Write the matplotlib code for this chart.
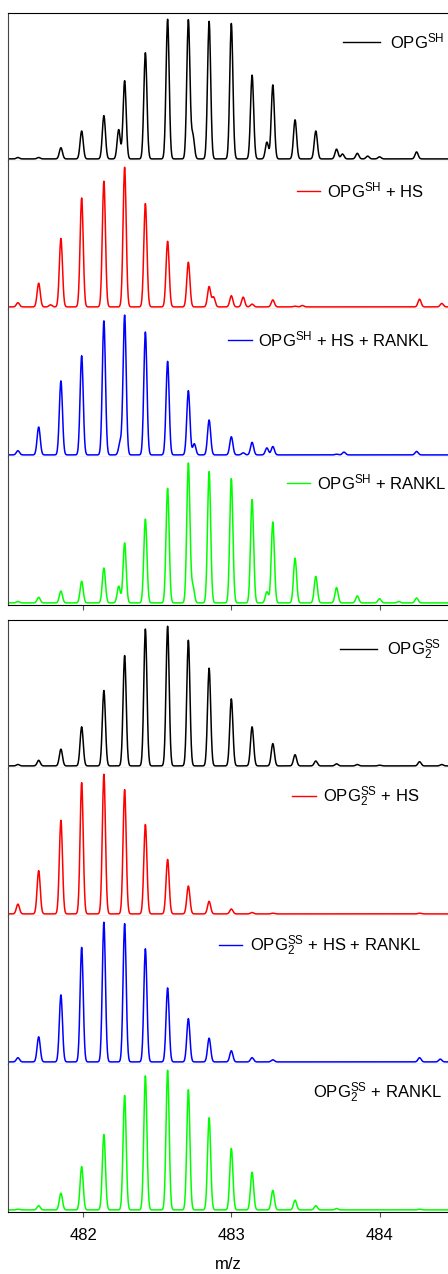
import numpy as np
import matplotlib.pyplot as plt
from matplotlib.lines import Line2D

plt.rcParams['font.family'] = ['Liberation Sans', 'DejaVu Sans']
plt.rcParams['mathtext.fontset'] = 'custom'
plt.rcParams['mathtext.rm'] = 'Liberation Sans'
plt.rcParams['mathtext.it'] = 'Liberation Sans:italic'

# isotope peak centroids (m/z)
peak_mz = [481.56, 481.70, 481.85, 481.99, 482.14, 482.28, 482.42, 482.57, 482.71,
           482.85, 483.00, 483.14, 483.28, 483.43, 483.57, 483.71, 483.85, 484.00]

# relative intensities (%) at each peak_mz
opg_sh = [1, 1, 8, 20, 31, 56, 76, 100, 99.5, 98.5, 97, 60, 53, 28, 20, 7, 4, 1.5]
opg_sh_hs = [3, 17, 49, 78, 90, 100, 74, 47, 32, 14.5, 8, 2, 5, 0.5, 0, 0, 0, 0]
opg_sh_hs_rankl = [3, 20, 53, 71, 96, 100, 88, 67, 46, 25, 13, 9, 6, 0, 0, 0.5, 0, 0]
opg_sh_rankl = [1, 4, 8.5, 15.5, 25, 43, 60, 82, 100, 94, 89, 74, 58, 32, 19, 11, 5, 3]
opg2_ss = [1, 4, 12, 28, 54, 79, 98, 100, 90, 70, 48, 28, 16, 8, 3.5, 1.5, 1, 0.5]
opg2_ss_hs = [7, 31, 67, 94, 100, 89, 64, 39, 20, 9, 3.5, 1, 0.5, 0, 0, 0, 0, 0]
opg2_ss_hs_rankl = [3, 18, 48, 82, 100, 99, 81, 53, 31, 17, 8, 3, 1.5, 0, 0, 0, 0, 0]
opg2_ss_rankl = [0.5, 3, 12, 31, 54, 82, 96, 100, 86, 66, 44, 27, 14, 7, 3, 1, 0, 0]

# minor / shoulder peaks (m/z, intensity)
opg_sh_minor = [(482.24, 21), (482.74, 17), (483.24, 12), (483.75, 3.5), (483.92, 2), (484.25, 5)]
opg_sh_hs_minor = [(481.78, 1.5), (482.88, 7), (483.08, 7), (483.48, 1), (484.27, 5.5), (484.42, 2.5)]
opg_sh_hs_rankl_minor = [(482.25, 9), (482.75, 8), (483.08, 1.5), (483.24, 5), (483.76, 2), (484.25, 2.5)]
opg_sh_rankl_minor = [(482.24, 12), (482.74, 12), (483.24, 8), (484.13, 1), (484.25, 3.5)]
opg2_ss_minor = [(484.27, 3), (484.42, 1)]
opg2_ss_hs_minor = [(484.27, 0.5)]
opg2_ss_hs_rankl_minor = [(484.27, 3), (484.41, 2)]
opg2_ss_rankl_minor = [(484.27, 0.5)]

spectra = [opg_sh, opg_sh_hs, opg_sh_hs_rankl, opg_sh_rankl,
           opg2_ss, opg2_ss_hs, opg2_ss_hs_rankl, opg2_ss_rankl]
minors = [opg_sh_minor, opg_sh_hs_minor, opg_sh_hs_rankl_minor, opg_sh_rankl_minor,
          opg2_ss_minor, opg2_ss_hs_minor, opg2_ss_hs_rankl_minor, opg2_ss_rankl_minor]
labels = [r'OPG$^{\mathrm{SH}}$', r'OPG$^{\mathrm{SH}}$ + HS',
          r'OPG$^{\mathrm{SH}}$ + HS + RANKL', r'OPG$^{\mathrm{SH}}$ + RANKL',
          r'OPG$_{2}^{\mathrm{SS}}$', r'OPG$_{2}^{\mathrm{SS}}$ + HS',
          r'OPG$_{2}^{\mathrm{SS}}$ + HS + RANKL', r'OPG$_{2}^{\mathrm{SS}}$ + RANKL']
colors = ['black', '#ff0000', '#0000ff', '#00ff00'] * 2

# legend layout in pixels: (line start, line end, text left, text baseline)
legend_px = [(343, 380, 390, 48), (297, 320, 327, 197), (228, 252, 258, 346),
             (287, 310, 317, 489), (340, 377, 387, 655), (292, 316, 323, 802),
             (219, 242, 250, 951), (None, None, 313, 1098)]

W, H = 448, 1274
fig = plt.figure(figsize=(W / 100, H / 100), dpi=100)
left_px, right_px = 8, 448
group_tops = [13, 620]
panel_h = 148
sigma = 0.0105

mz = np.arange(481.4, 484.6, 0.002)

for i in range(8):
    g, j = divmod(i, 4)
    top = group_tops[g] + j * panel_h
    ax = fig.add_axes([left_px / W, 1 - (top + panel_h) / H,
                       (right_px - left_px) / W, panel_h / H])

    centers = list(peak_mz) + [m for m, _ in minors[i]]
    heights = list(spectra[i]) + [h for _, h in minors[i]]
    y = np.zeros_like(mz)
    for c, h in zip(centers, heights):
        y += h * np.exp(-0.5 * ((mz - c) / sigma) ** 2)
    ax.plot(mz, y, color=colors[i], lw=1.1)

    ax.set_xlim(481.493, 484.462)
    ax.set_ylim(-1.5, 104.5)
    ax.set_yticks([])
    ax.spines['right'].set_visible(False)
    ax.spines['left'].set_color('#444444')
    if j > 0:
        ax.spines['top'].set_visible(False)

    if j == 3:
        ax.set_xticks([482, 483, 484])
        ax.tick_params(axis='x', direction='out', length=3.5, width=0.8,
                       color='#555555', labelsize=12, pad=8)
        if g == 0:
            ax.tick_params(axis='x', labelbottom=False)
        else:
            ax.set_xlabel('m/z', fontsize=12, labelpad=10)
    else:
        ax.set_xticks([])

    x0, x1, tx, ty = legend_px[i]
    if x0 is not None:
        fig.add_artist(Line2D([x0 / W, x1 / W], [1 - (ty - 6) / H] * 2,
                              color=colors[i], lw=1.0, transform=fig.transFigure))
    fig.text(tx / W, 1 - ty / H, labels[i], fontsize=12, va='baseline', ha='left')

fig.savefig('out.png', dpi=100)
